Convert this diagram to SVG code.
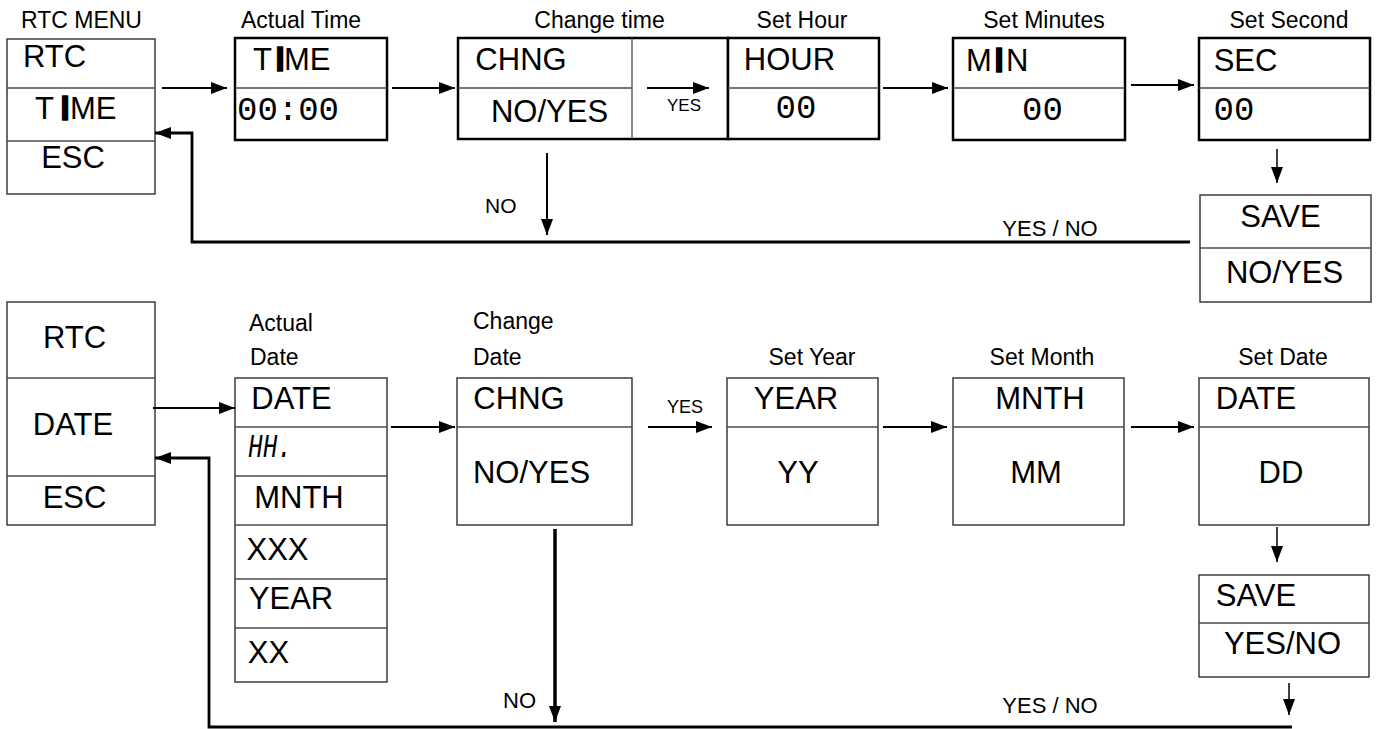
<svg xmlns="http://www.w3.org/2000/svg" width="1376" height="729" viewBox="0 0 1376 729">
<style>
.box{fill:#fff;stroke:#3c3c3c;stroke-width:1.5}
.bk{fill:#fff;stroke:#000;stroke-width:2.5}
.dv{stroke:#4a4a4a;stroke-width:1.3;fill:none}
.t{font-family:"Liberation Sans",Arial,sans-serif;font-size:31px;fill:#000}
.c{text-anchor:middle}
.lbl{font-family:"Liberation Sans",Arial,sans-serif;font-size:23px;fill:#000}
.sm{font-family:"Liberation Sans",Arial,sans-serif;fill:#000}
.seg{font-family:"Liberation Mono","DejaVu Sans Mono",monospace;font-size:34px;fill:#000}
.bar{stroke:#000;stroke-width:3.4}
.ln{fill:none;stroke:#000;stroke-width:2}
.thk{stroke-width:2.8}
.thin{stroke-width:1.5}
</style>
<defs>
<marker id="ah" markerUnits="userSpaceOnUse" markerWidth="16" markerHeight="12" viewBox="0 0 16 12" refX="16" refY="6" orient="auto">
<path d="M0,0 L16,6 L0,12 z" fill="#000"/>
</marker>
</defs>
<rect width="1376" height="729" fill="#fff"/>

<!-- ===== Top row ===== -->
<g id="rtc-menu">
<text class="lbl c" x="81.5" y="28">RTC MENU</text>
<rect class="box" x="7" y="39" width="148" height="155"/>
<line class="dv" x1="7" y1="88" x2="155" y2="88"/>
<line class="dv" x1="7" y1="141" x2="155" y2="141"/>
<text class="t" x="23" y="67">RTC</text>
<text class="t" y="119"><tspan x="35">T</tspan><tspan class="bar" x="60.7">I</tspan><tspan x="70">ME</tspan></text>
<text class="t c" x="73" y="168">ESC</text>
</g>

<g id="actual-time">
<text class="lbl c" x="301" y="28">Actual Time</text>
<rect class="bk" x="235" y="38" width="152" height="102"/>
<line class="dv" x1="235" y1="88" x2="387" y2="88"/>
<text class="t" y="70"><tspan x="253">T</tspan><tspan class="bar" x="275.7">I</tspan><tspan x="284">ME</tspan></text>
<text class="seg" x="237" y="120">00:00</text>
</g>

<g id="change-time">
<text class="lbl c" x="599.5" y="28">Change time</text>
<rect class="bk" x="458" y="38" width="270" height="101"/>
<line class="dv" x1="458" y1="88" x2="632" y2="88"/>
<line class="dv" x1="632" y1="38" x2="632" y2="139"/>
<text class="t c" x="521" y="70">CHNG</text>
<text class="t c" x="549.5" y="122">NO/YES</text>
</g>

<g id="set-hour">
<text class="lbl c" x="802" y="28">Set Hour</text>
<rect class="bk" x="728" y="38" width="151" height="101"/>
<line class="dv" x1="728" y1="88" x2="879" y2="88"/>
<text class="t c" x="789.5" y="70">HOUR</text>
<text class="seg c" x="796" y="118">00</text>
</g>

<g id="set-minutes">
<text class="lbl c" x="1044" y="28">Set Minutes</text>
<rect class="bk" x="953" y="38" width="172" height="102"/>
<line class="dv" x1="953" y1="88" x2="1125" y2="88"/>
<text class="t" y="71"><tspan x="966">M</tspan><tspan class="bar" x="994.7">I</tspan><tspan x="1006">N</tspan></text>
<text class="seg c" x="1042.5" y="120">00</text>
</g>

<g id="set-second">
<text class="lbl c" x="1289" y="28">Set Second</text>
<rect class="bk" x="1199" y="38" width="171" height="102"/>
<line class="dv" x1="1199" y1="88" x2="1370" y2="88"/>
<text class="t c" x="1245.5" y="71">SEC</text>
<text class="seg c" x="1234" y="120">00</text>
</g>

<g id="save-time">
<rect class="box" x="1200" y="195" width="171" height="107"/>
<line class="dv" x1="1200" y1="248" x2="1371" y2="248"/>
<text class="t c" x="1280.5" y="227">SAVE</text>
<text class="t c" x="1284.5" y="283">NO/YES</text>
</g>

<!-- ===== Bottom row ===== -->
<g id="rtc-date">
<rect class="box" x="7" y="302" width="148" height="223"/>
<line class="dv" x1="7" y1="378" x2="155" y2="378"/>
<line class="dv" x1="7" y1="476" x2="155" y2="476"/>
<text class="t c" x="74.5" y="348">RTC</text>
<text class="t c" x="73" y="435">DATE</text>
<text class="t c" x="74.5" y="508">ESC</text>
</g>

<g id="actual-date">
<text class="lbl" x="249" y="331">Actual</text>
<text class="lbl" x="250" y="365">Date</text>
<rect class="box" x="235" y="378" width="152" height="304"/>
<line class="dv" x1="235" y1="427" x2="387" y2="427"/>
<line class="dv" x1="235" y1="476" x2="387" y2="476"/>
<line class="dv" x1="235" y1="525" x2="387" y2="525"/>
<line class="dv" x1="235" y1="579" x2="387" y2="579"/>
<line class="dv" x1="235" y1="628" x2="387" y2="628"/>
<text class="t c" x="291.5" y="409">DATE</text>
<text class="seg" x="248" y="457" font-size="28" font-style="italic" textLength="44" lengthAdjust="spacingAndGlyphs">HH.</text>
<text class="t c" x="299" y="508">MNTH</text>
<text class="t c" x="277.5" y="560">XXX</text>
<text class="t c" x="291" y="609">YEAR</text>
<text class="t c" x="268.5" y="663">XX</text>
</g>

<g id="change-date">
<text class="lbl" x="473" y="329">Change</text>
<text class="lbl" x="473" y="365">Date</text>
<rect class="box" x="457" y="378" width="175" height="147"/>
<line class="dv" x1="457" y1="427" x2="632" y2="427"/>
<text class="t c" x="519" y="409">CHNG</text>
<text class="t c" x="531.5" y="483">NO/YES</text>
</g>

<g id="set-year">
<text class="lbl c" x="812" y="365">Set Year</text>
<rect class="box" x="727" y="378" width="151" height="147"/>
<line class="dv" x1="727" y1="427" x2="878" y2="427"/>
<text class="t c" x="796" y="409">YEAR</text>
<text class="t c" x="798" y="483">YY</text>
</g>

<g id="set-month">
<text class="lbl c" x="1042" y="365">Set Month</text>
<rect class="box" x="953" y="378" width="171" height="147"/>
<line class="dv" x1="953" y1="427" x2="1124" y2="427"/>
<text class="t c" x="1040" y="409">MNTH</text>
<text class="t c" x="1036" y="483">MM</text>
</g>

<g id="set-date">
<text class="lbl c" x="1283" y="365">Set Date</text>
<rect class="box" x="1199" y="378" width="170" height="147"/>
<line class="dv" x1="1199" y1="427" x2="1369" y2="427"/>
<text class="t c" x="1256" y="409">DATE</text>
<text class="t c" x="1281" y="483">DD</text>
</g>

<g id="save-date">
<rect class="box" x="1199" y="575" width="170" height="102"/>
<line class="dv" x1="1199" y1="623" x2="1369" y2="623"/>
<text class="t c" x="1256" y="606">SAVE</text>
<text class="t c" x="1282.5" y="654">YES/NO</text>
</g>

<!-- ===== Connectors ===== -->
<g id="connectors">
<path class="ln" d="M162,88 H227" marker-end="url(#ah)"/>
<path class="ln" d="M392,88 H455" marker-end="url(#ah)"/>
<path class="ln" d="M647,88 H709" marker-end="url(#ah)"/>
<text class="sm" x="667" y="111" font-size="17">YES</text>
<path class="ln" d="M883,88 H948" marker-end="url(#ah)"/>
<path class="ln" d="M1131,85 H1194" marker-end="url(#ah)"/>
<path class="ln thin" d="M1277,149 V183" marker-end="url(#ah)"/>
<path class="ln" d="M547,153 V235" marker-end="url(#ah)"/>
<text class="sm" x="485" y="213" font-size="21">NO</text>
<path class="ln thk" d="M1190,242 H192 V133 H155" marker-end="url(#ah)"/>
<text class="sm c" x="1050" y="236" font-size="22">YES / NO</text>

<path class="ln" d="M153,408 H235" marker-end="url(#ah)"/>
<path class="ln" d="M391,427 H455" marker-end="url(#ah)"/>
<path class="ln" d="M648,427 H712" marker-end="url(#ah)"/>
<text class="sm" x="667" y="413" font-size="18">YES</text>
<path class="ln" d="M883,427 H947" marker-end="url(#ah)"/>
<path class="ln" d="M1131,427 H1194" marker-end="url(#ah)"/>
<path class="ln thin" d="M1277,527 V562" marker-end="url(#ah)"/>
<path class="ln thin" d="M1289,683 V715" marker-end="url(#ah)"/>
<path class="ln" style="stroke-width:3.5" d="M555,529 V722" marker-end="url(#ah)"/>
<text class="sm" x="503" y="708" font-size="22">NO</text>
<path class="ln thk" d="M1292,727 H209 V458 H155" marker-end="url(#ah)"/>
<text class="sm c" x="1050" y="713" font-size="22">YES / NO</text>
</g>
</svg>
